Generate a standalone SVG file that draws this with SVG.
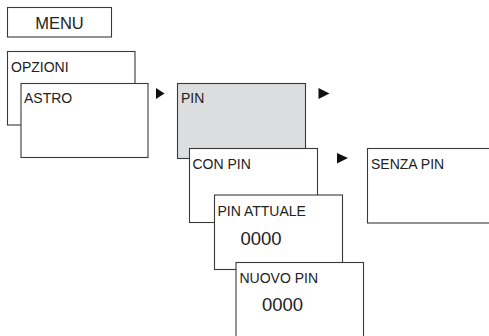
<svg xmlns="http://www.w3.org/2000/svg" width="489" height="336" viewBox="0 0 489 336">
<style>
.box{fill:#fff;stroke:#3a3a3a;stroke-width:1.1}
.gray{fill:#dcdddf}
.lbl{font-family:"Liberation Sans",Arial,sans-serif;font-size:14px;fill:#222}
.big{font-family:"Liberation Sans",Arial,sans-serif;font-size:18.5px;fill:#222}
.menu{font-family:"Liberation Sans",Arial,sans-serif;font-size:16.5px;fill:#222}
.arr{fill:#111}
</style>
<rect width="489" height="336" fill="#fff"/>
<g id="menu"><rect class="box" x="7.5" y="7.5" width="104" height="29.5"/><text class="menu" x="59.5" y="29" text-anchor="middle">MENU</text></g>
<g id="opzioni"><rect class="box" x="7.5" y="51.5" width="127.5" height="73.5"/><text class="lbl" x="11" y="72">OPZIONI</text></g>
<g id="astro"><rect class="box" x="21" y="83.5" width="127" height="74"/><text class="lbl" x="24" y="103">ASTRO</text></g>
<g id="pin"><rect class="box gray" x="177.5" y="83.5" width="128" height="75"/><text class="lbl" x="181" y="103">PIN</text></g>
<g id="conpin"><rect class="box" x="189.5" y="148.5" width="128" height="74"/><text class="lbl" x="192.5" y="169">CON PIN</text></g>
<g id="senzapin"><rect class="box" x="367.5" y="148.5" width="130" height="74.5"/><text class="lbl" x="371" y="169">SENZA PIN</text></g>
<g id="pinattuale"><rect class="box" x="214.5" y="195" width="128" height="74.5"/><text class="lbl" x="217.5" y="216">PIN ATTUALE</text><text class="big" x="240.5" y="245">0000</text></g>
<g id="nuovopin"><rect class="box" x="236" y="262.5" width="127.5" height="80"/><text class="lbl" x="239.5" y="282.5">NUOVO PIN</text><text class="big" x="262" y="311">0000</text></g>
<g id="connectors">
<polygon class="arr" points="156,88 164.5,93.5 156,99"/>
<polygon class="arr" points="318.5,88 329.5,93.5 318.5,99"/>
<polygon class="arr" points="337,153 348,158 337,163.5"/>
</g>
</svg>
